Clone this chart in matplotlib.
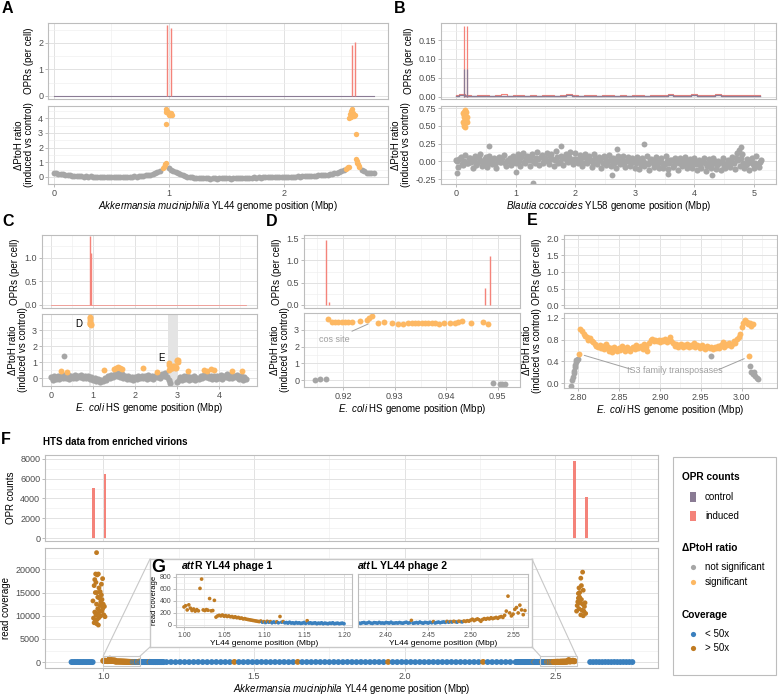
import numpy as np
import matplotlib
matplotlib.use("Agg")
import matplotlib.pyplot as plt
from matplotlib.patches import Rectangle, ConnectionPatch

plt.rcParams['font.family'] = ['Liberation Sans', 'DejaVu Sans']
plt.rcParams['mathtext.fontset'] = 'custom'
plt.rcParams['mathtext.rm'] = 'Liberation Sans'
plt.rcParams['mathtext.it'] = 'Liberation Sans:italic'
plt.rcParams['mathtext.bf'] = 'Liberation Sans:bold'
plt.rcParams['axes.unicode_minus'] = False

# ---------------- data ----------------
# Panel A  (Akkermansia muciniphila YL44)
a_genome_len = 2.78
a_opr_pos = [0.983, 1.017, 2.59, 2.62]
a_opr_induced = [2.66, 2.58, 1.91, 2.02]
a_bin_start = 0.0
a_bin_step = 0.02
a_ratio = [0.27, 0.25, 0.22, 0.2, 0.17, 0.14, 0.12, 0.1, 0.08, 0.07, 0.05, 0.06, 0.04, 0.03, 0.05,
           0.02, 0.04, 0.0, 0.03, 0.01, -0.02, 0.02, 0.0, -0.03, 0.01, -0.01, 0.02, 0.0, -0.02, 0.01,
           0.0, 0.02, -0.01, 0.03, 0.01, 0.04, 0.02, 0.05, 0.04, 0.08, 0.1, 0.12, 0.16, 0.2, 0.26,
           0.33, 0.42,
           np.nan, np.nan, np.nan,
           0.58, 0.5, 0.42,
           0.33, 0.25, 0.18, 0.12, 0.07, 0.03, 0.0,
           -0.02, -0.05, -0.04, -0.08, -0.06, -0.1, -0.07, -0.09, -0.11, -0.08, -0.1, -0.12, -0.09, -0.1, -0.07,
           -0.1, -0.08, -0.11, -0.09, -0.07, -0.1, -0.06, -0.08, -0.05, -0.07, -0.04, -0.06, -0.03, -0.05, -0.02,
           -0.04, -0.01, -0.03, 0.0, -0.02, 0.01, -0.01, 0.02, 0.0, 0.01, 0.03, 0.0, 0.02, 0.01, 0.03,
           0.02, 0.04, 0.03, 0.05, 0.04, 0.06, 0.05, 0.08, 0.07, 0.09, 0.1, 0.12, 0.11, 0.14, 0.16,
           0.18, 0.21, 0.24, 0.28, 0.32, 0.38, 0.44,
           np.nan, np.nan, np.nan, np.nan, np.nan, np.nan, np.nan,
           0.5, 0.38, 0.3, 0.28, 0.3, 0.27]
a_sig_x = [0.95, 0.957, 0.963, 0.968, 0.973, 0.977,
           0.972, 0.978, 0.984, 0.99, 0.996, 1.002, 1.008, 1.014, 1.02, 1.026,
           2.54, 2.548, 2.556, 2.562,
           2.568, 2.574, 2.58, 2.586, 2.592, 2.598, 2.604, 2.61, 2.616,
           2.623,
           2.626, 2.632, 2.638, 2.644, 2.65, 2.656]
a_sig_y = [0.6, 0.68, 0.78, 0.86, 0.95, 3.6,
           4.45, 4.6, 4.5, 4.35, 4.4, 4.25, 4.3, 4.2, 4.35, 4.25,
           0.55, 0.6, 0.65, 0.7,
           4.0, 4.3, 4.1, 4.5, 4.6, 4.2, 4.35, 4.15, 4.25,
           2.95,
           1.25, 1.1, 0.95, 0.85, 0.75, 0.7]

# Panel B  (Blautia coccoides YL58)
b_genome_len = 5.12
b_bg_start = 0.0
b_bg_step = 0.1
b_bg_induced = [0.004, 0.006, 0.005, 0.003, 0.004, 0.005, 0.003, 0.004, 0.006, 0.003,
                0.004, 0.005, 0.003, 0.004, 0.003, 0.005, 0.004, 0.003, 0.004, 0.006,
                0.004, 0.003, 0.005, 0.004, 0.003, 0.004, 0.005, 0.003, 0.004, 0.003,
                0.005, 0.004, 0.003, 0.004, 0.005, 0.004, 0.006, 0.004, 0.005, 0.004,
                0.006, 0.005, 0.004, 0.005, 0.006, 0.004, 0.005, 0.004, 0.005, 0.004,
                0.005, 0.004]
b_bg_control = [0.003, 0.004, 0.003, 0.002, 0.003, 0.003, 0.002, 0.003, 0.003, 0.002,
                0.003, 0.003, 0.002, 0.003, 0.002, 0.003, 0.003, 0.002, 0.003, 0.004,
                0.003, 0.002, 0.003, 0.003, 0.002, 0.003, 0.003, 0.002, 0.003, 0.002,
                0.003, 0.003, 0.002, 0.003, 0.003, 0.003, 0.004, 0.003, 0.003, 0.003,
                0.004, 0.003, 0.003, 0.003, 0.004, 0.003, 0.003, 0.003, 0.003, 0.003,
                0.003, 0.003]
b_opr_pos = [0.13, 0.19]
b_opr_induced = [0.187, 0.187]
b_opr_control = [0.074, 0.074]
b_bin_start = 0.0
b_bin_step = 0.04
b_ratio = [0.02, -0.08, 0.06, -0.05, 0.09, -0.03, 0.04, -0.09, 0.07, -0.02, 0.1, -0.06, 0.03, -0.08, 0.08,
           -0.04, 0.05, -0.1, 0.06, -0.01, 0.09, -0.07, 0.02, -0.05, 0.07,
           -0.03, 0.1, -0.06, 0.12, -0.02, 0.08, -0.07, 0.11, -0.03, 0.13, -0.05, 0.09, 0.0, 0.12, -0.04,
           0.1, -0.06, 0.14, -0.02, 0.08, -0.05, 0.11, -0.01, 0.13, -0.04,
           0.12, -0.03, 0.09, -0.06, 0.11, -0.02, 0.07, -0.08, 0.1, -0.04, 0.06, -0.09, 0.08, -0.05, 0.09,
           -0.07, 0.05, -0.1, 0.07, -0.04, 0.08, -0.08, 0.06, -0.06, 0.04,
           -0.09, 0.06, -0.11, 0.05, -0.07, 0.08, -0.12, 0.03, -0.08, 0.06, -0.1, 0.04, -0.09, 0.07, -0.11,
           0.02, -0.08, 0.05, -0.12, 0.04, -0.07, 0.06, -0.1, 0.03, -0.09,
           0.05, -0.12, 0.02, -0.1, 0.04, -0.13, 0.03, -0.09, 0.05, -0.11, 0.01, -0.12, 0.04, -0.1, 0.02,
           -0.08, 0.06, -0.11, 0.12, -0.06, 0.1, -0.09, 0.03, -0.12, 0.05,
           -0.1, 0.07, -0.08, 0.02]
b_bin2_start = 0.02
b_ratio2 = [0.0, 0.03, -0.04, 0.01, -0.02, 0.05, -0.01, 0.02, -0.05, 0.04, 0.0, -0.03, 0.06, -0.02, 0.01,
            0.03, -0.04, 0.02, -0.01, 0.05, -0.03, 0.0, 0.04, -0.02, 0.01,
            0.04, 0.01, 0.06, -0.01, 0.05, 0.02, 0.07, 0.0, 0.04, 0.03, 0.06, -0.02, 0.05, 0.01, 0.07,
            0.03, 0.02, 0.06, -0.01, 0.04, 0.05, 0.0, 0.06, 0.02, 0.03,
            0.03, 0.0, 0.05, -0.02, 0.04, 0.01, 0.02, -0.03, 0.04, 0.0, 0.03, -0.02, 0.05, -0.01, 0.02,
            0.0, -0.03, 0.03, -0.01, 0.02, -0.04, 0.01, 0.0, -0.02, 0.02,
            -0.03, 0.0, -0.05, 0.01, -0.02, -0.04, 0.02, -0.03, 0.0, -0.05, 0.01, -0.02, -0.04, 0.0, -0.03,
            0.02, -0.05, -0.01, -0.03, 0.0, -0.04, 0.01, -0.02, -0.05, 0.0,
            -0.04, -0.01, -0.05, 0.0, -0.03, -0.06, -0.02, -0.04, 0.0, -0.05, -0.03, -0.01, -0.06, -0.02,
            -0.04, 0.0, -0.03, 0.05, 0.02, 0.04, -0.02, -0.05, -0.03, 0.0, -0.04, -0.02, -0.05, -0.01]
b_out_x = [0.02, 0.55, 1.3, 1.77, 2.62, 3.15, 3.55, 4.3, 4.78, 1.0, 2.7, 4.75]
b_out_y = [-0.17, 0.21, -0.3, 0.22, -0.19, 0.25, -0.18, -0.19, 0.2, -0.15, 0.17, 0.16]
b_sig_x = [0.12, 0.13, 0.14, 0.15, 0.16, 0.17, 0.18, 0.12, 0.14, 0.16, 0.18, 0.13, 0.15, 0.17, 0.14, 0.16]
b_sig_y = [0.55, 0.65, 0.7, 0.6, 0.72, 0.58, 0.63, 0.68, 0.5, 0.48, 0.55, 0.52, 0.66, 0.7, 0.62, 0.57]

# Panel C  (E. coli HS, whole genome)
c_genome_len = 4.64
c_opr_pos = [0.917, 0.948]
c_opr_induced = [1.45, 1.1]
c_phage_d = (0.915, 0.952)
c_phage_e = (2.79, 3.03)
c_bin_start = 0.0
c_bin_step = 0.04
c_ratio = [0.05, -0.1, 0.1, -0.05, 0.15, -0.08, 0.12, -0.02, 0.2, 0.0, 0.18, -0.05, 0.15, 0.02, 0.2,
           -0.03, 0.12, 0.05, 0.18, -0.02, 0.15, 0.0, 0.1, -0.08, 0.05,
           -0.1, 0.02, -0.18, -0.05, -0.25, -0.1, -0.2, 0.0, -0.12, 0.1, -0.02, 0.18, 0.05, 0.25, 0.1,
           0.3, 0.08, 0.22, 0.0, 0.12, -0.08, 0.1, -0.05, 0.08, -0.1,
           0.05, -0.08, 0.12, -0.02, 0.15, 0.0, 0.1, -0.05, 0.18, 0.02, 0.12, -0.05, 0.15, 0.05, 0.2,
           0.0, 0.25, 0.1, 0.3, 0.05, -0.15, -0.3, np.nan, np.nan, np.nan,
           -0.25, -0.1, 0.05, -0.1, 0.1, -0.05, 0.12, -0.12, 0.05, -0.08, 0.1, -0.15, 0.02, -0.05, 0.15,
           0.0, 0.2, 0.05, 0.18, -0.02, 0.12, -0.08, 0.1, -0.05, 0.15,
           0.0, 0.2, -0.05, 0.15, 0.05, 0.22, 0.0, 0.18, -0.02, 0.15, 0.05, 0.2, -0.05, 0.1, -0.1, 0.05, -0.05]
c_sig_x = [0.92, 0.925, 0.93, 0.935, 0.94, 0.945, 0.95, 0.93, 0.94,
           2.8, 2.82, 2.84, 2.86, 2.88, 2.9, 2.92, 2.94, 2.96, 2.98, 3.0, 3.02,
           2.81, 2.85, 2.89, 2.93, 2.97, 3.01, 3.03,
           0.24, 0.38, 1.27, 1.5, 1.55, 1.6, 1.65, 1.7, 2.18, 2.53, 3.27, 3.65, 3.72, 3.8, 3.87, 4.3, 4.55]
c_sig_y = [3.65, 3.5, 3.4, 3.45, 3.35, 3.4, 3.3, 3.8, 3.75,
           0.95, 0.8, 0.65, 0.6, 0.65, 0.75, 0.75, 0.7, 0.65, 0.7, 1.1, 1.15,
           0.5, 0.7, 0.6, 0.68, 0.62, 1.05, 1.0,
           0.45, 0.4, 0.5, 0.55, 0.65, 0.7, 0.6, 0.55, 0.6, 0.4, 0.45, 0.5, 0.45, 0.55, 0.5, 0.45, 0.42]
c_out_x = [0.3]
c_out_y = [1.38]

# Panel D  (zoom on phage D)
d_opr_pos = [0.9167, 0.9173, 0.9475, 0.9484]
d_opr_induced = [1.45, 0.07, 0.39, 1.09]
d_sig_x = [0.91703, 0.91781, 0.91845, 0.91909, 0.91974, 0.92039, 0.92103, 0.92168, 0.9233, 0.9246,
           0.9251, 0.9256, 0.9268, 0.9280, 0.9294, 0.9307, 0.9317, 0.9325, 0.9333, 0.9340,
           0.9346, 0.9353, 0.9359, 0.9365, 0.9372, 0.9378, 0.9385, 0.9396, 0.9407, 0.9416,
           0.9423, 0.9431, 0.9448, 0.9472, 0.9480]
d_sig_y = [3.66, 3.44, 3.46, 3.45, 3.47, 3.48, 3.46, 3.44, 3.54, 3.60,
           3.70, 3.80, 3.40, 3.44, 3.40, 3.36, 3.34, 3.38, 3.40, 3.42,
           3.41, 3.43, 3.42, 3.40, 3.41, 3.39, 3.37, 3.40, 3.38, 3.38,
           3.44, 3.50, 3.40, 3.46, 3.32]
d_ns_x = [0.91457, 0.91554, 0.91665, 0.9491, 0.9504, 0.9509, 0.9514]
d_ns_y = [0.03, 0.07, 0.05, -0.14, -0.22, -0.21, -0.22]

# Panel E  (zoom on phage E)
e_sig_start = 2.803
e_sig_step = 0.00195
e_sig_y = [1.00, 0.96, 0.90, 0.86, 0.84, 0.80, 0.83, 0.78, 0.75, 0.72,
           0.69, 0.66, 0.70, 0.64, 0.68, 0.62, 0.72, 0.66, 0.60, 0.64,
           0.58, 0.66, 0.62, 0.60, 0.65, 0.61, 0.68, 0.63, 0.60, 0.66,
           0.62, 0.59, 0.64, 0.67, 0.62, 0.70, 0.64, 0.66, 0.68, 0.63,
           0.72, 0.66, 0.60, 0.74, 0.80, 0.82, 0.78, 0.80, 0.77, 0.79,
           0.76, 0.80, 0.78, 0.82, 0.76, 0.79, 0.84, 0.78, 0.74, 0.68,
           0.72, 0.66, 0.70, 0.72, 0.67, 0.70, 0.68, 0.72, 0.66, 0.70,
           0.68, 0.73, 0.66, 0.70, 0.68, 0.65, 0.70, 0.66, 0.63, 0.68,
           0.66, 0.64, 0.67, 0.63, 0.66, 0.64, 0.68, 0.65, 0.70, 0.76,
           0.66, 0.72, 0.70, 0.74, 0.68, 0.72, 0.78, 0.74, 0.82, 0.84,
           0.90, 1.04, 1.10, 1.16, 1.12, 1.08, 1.10, 1.05, 1.08]
e_is3_x = [2.8012, 3.0093]
e_is3_y = [0.54, 0.49]
e_ns_x = [2.7919, 2.7927, 2.7939, 2.7947, 2.7951, 2.7959, 2.7963, 2.7971, 2.7980, 2.7988, 2.7996,
          2.9626,
          3.0102, 3.0114, 3.0134, 3.0154, 3.0167, 3.0183, 3.0195]
e_ns_y = [-0.05, 0.06, 0.11, 0.18, 0.23, 0.29, 0.34, 0.38, 0.42, 0.43, 0.45,
          0.50,
          0.31, 0.20, 0.17, 0.20, 0.14, 0.10, 0.07]

# Panel F  (HTS of enriched virions, YL44)
f_opr_pos = [0.967, 1.006, 2.563, 2.603]
f_opr_induced = [5100, 6500, 7800, 4150]
cov_threshold = 50
f_left_start, f_left_step = 0.895, 0.005
f_left_cov = [30, 25, 35, 28, 40, 22, 33, 27, 38, 30, 26, 35, 29, 32, 24]
f_mid_start, f_mid_step = 1.21, 0.015
f_mid_cov = [28, 35, 22, 40, 31, 26, 38, 45, 30, 24, 33, 41, 27, 36, 29, 52, 34, 25, 39, 30,
             28, 44, 32, 26, 37, 30, 41, 23, 35, 60, 29, 33, 27, 42, 31, 36, 24, 39, 30, 28,
             46, 33, 25, 38, 31, 27, 43, 35, 29, 55, 32, 26, 40, 30, 36, 24, 38, 29, 33, 41,
             27, 35, 30, 44, 26, 37, 32, 28, 40, 31, 58, 34, 29, 38, 27, 36, 30]
f_right_start, f_right_step = 2.615, 0.01
f_right_cov = [35, 28, 40, 30, 25, 38, 32, 27, 42, 30, 26, 36, 29, 33, 31]
f_peak1_x = [0.978, 0.975, 0.980, 0.984, 0.972, 0.976, 0.998, 0.970, 0.986, 0.974, 0.980, 0.990, 0.994,
             0.996, 0.966, 0.978, 0.992, 1.000, 1.004, 0.998, 0.982, 0.988, 0.972, 0.976, 0.984, 0.992,
             1.002, 0.968, 0.974, 0.980, 0.986, 0.970, 0.978, 0.984, 0.996, 1.006, 0.990, 0.982, 0.994, 0.988]
f_peak1_y = [23600, 19000, 18800, 19000, 17800, 17200, 18000, 16500, 16000, 15000, 15000, 15200, 14500,
             13500, 13200, 12500, 13000, 12500, 12000, 11500, 11500, 11000, 10800, 10200, 10500, 10000,
             10200, 9500, 9000, 9200, 9600, 8500, 8300, 8000, 11000, 9800, 12200, 14000, 16800, 13800]
f_peak2_x = [2.59, 2.584, 2.578, 2.592, 2.576, 2.58, 2.586, 2.574, 2.582, 2.59, 2.596, 2.572, 2.578,
             2.588, 2.594, 2.6, 2.584, 2.592, 2.576, 2.57, 2.598, 2.58, 2.586]
f_peak2_y = [19400, 18100, 16000, 15500, 14800, 14000, 13500, 13000, 12800, 12500, 12000, 12200, 11500,
             11200, 11000, 10500, 10200, 10000, 13800, 11000, 12800, 15000, 16500]
g1_window = (1.0, 1.122)
g2_window = (2.45, 2.57)
g1_start, g1_step = 1.0, 0.002
g1_cov = [300, 320, 250, 335, 280, 240, 265, 230, 255, 235,
          610, 765, 250, 240, 255, 245, 440, 235, 240, 410,
          130, 150, 160, 150, 165, 145, 155, 140, 150, 135,
          140, 125, 135, 120, 125, 110, 115, 100, 105, 95,
          90, 85, 80, 75, 70, 65, 60, 55, 65, 45,
          55, 40, 60, 45, 55, 35, 50, 40, 52, 35,
          140, 45, 55, 35, 40, 30, 45, 30, 35, 25,
          40, 30, 35, 25, 30, 40, 25, 70, 30, 35,
          25, 30, 35, 20, 30, 25, 35, 20, 30, 25,
          20, 30, 25, 35, 20, 25, 30, 20, 25, 30, 20]
g2_start, g2_step = 2.368, 0.002
g2_cov = [30, 25, 35, 40, 28, 32, 45, 30, 25, 38, 35, 28, 42, 30, 33, 27, 40, 35, 30, 45,
          28, 30, 35, 30, 40, 32, 28, 38, 45, 30, 35, 75, 28, 33, 40, 30, 48, 35, 28, 42,
          38, 30, 45, 35, 55, 32, 40, 48, 36, 44,
          50, 42, 58, 45, 55, 48, 60, 52, 46, 62, 55, 50, 65, 58, 70, 62,
          80, 95, 72, 88, 100, 85, 60, 90, 105, 95,
          110, 100, 120, 105, 115, 125, 110, 130, 140, 125,
          160, 230, 480, 200, 150, 180, 260, 290, 200, 330, 250, 170, 240]

# ---------------- style ----------------
C_IND = "#F4837A"
C_CTRL = "#8A7B94"
C_NS = "#A6A6A6"
C_SIG = "#FDB863"
C_LOW = "#3A80BE"
C_HIGH = "#C07B22"
GRID = "#E2E2E2"
GRID_MINOR = "#EFEFEF"
BORDER = "#BDBDBD"
TICKC = "#4D4D4D"
ANNO = "#A0A0A0"

W, H = 778, 697
fig = plt.figure(figsize=(W / 100, H / 100), dpi=100)
fig.patch.set_facecolor('white')


def add_ax(l, t, r, b):
    return fig.add_axes([l / W, 1 - b / H, (r - l) / W, (b - t) / H])


def minor_from(ticks, lim):
    step = ticks[1] - ticks[0]
    lo, hi = min(lim), max(lim)
    cand = ticks[0] + step / 2 + step * np.arange(-30, 60)
    return [v for v in cand if lo < v < hi]


def style(ax, xlim, ylim, xticks, yticks, xfmt, yfmt, showx=True, size=6.5, showy=True):
    ax.set_xlim(xlim)
    ax.set_ylim(ylim)
    ax.set_xticks(xticks)
    ax.set_yticks(yticks)
    ax.set_xticklabels([xfmt.format(v) for v in xticks])
    ax.set_yticklabels([yfmt.format(v) for v in yticks])
    ax.set_xticks(minor_from(xticks, xlim), minor=True)
    ax.set_yticks(minor_from(yticks, ylim), minor=True)
    ax.set_axisbelow(True)
    ax.grid(True, which='major', color=GRID, lw=0.7)
    ax.grid(True, which='minor', color=GRID_MINOR, lw=0.45)
    ax.tick_params(which='major', length=2, width=0.6, color='#B0B0B0',
                   labelsize=size, labelcolor=TICKC, pad=1.5)
    ax.tick_params(which='minor', length=0)
    if not showx:
        ax.tick_params(axis='x', which='major', length=0, labelbottom=False)
    if not showy:
        ax.tick_params(axis='y', which='major', length=0, labelleft=False)
    for s in ax.spines.values():
        s.set_color(BORDER)
        s.set_linewidth(0.8)


RATIO_LABEL = "\u0394PtoH ratio\n(induced vs control)"
LAB = 7
PT = 15

# ---------------- Panel A ----------------
axA1 = add_ax(48, 23, 388, 99)
axA1.plot([0, a_genome_len], [0, 0], color=C_CTRL, lw=0.8)
axA1.vlines(a_opr_pos, 0, a_opr_induced, color=C_IND, lw=1.0)
style(axA1, (-0.05, 2.905), (-0.12, 2.75), [0, 1, 2], [0, 1, 2], "{:.0f}", "{:.0f}", showx=False)
axA1.set_ylabel("OPRs (per cell)", fontsize=LAB, labelpad=3)

axA2 = add_ax(48, 106, 388, 184)
a_x = a_bin_start + a_bin_step * np.arange(len(a_ratio))
axA2.scatter(a_x, a_ratio, s=18, color=C_NS, lw=0)
axA2.scatter(a_sig_x, a_sig_y, s=PT, color=C_SIG, lw=0)
style(axA2, (-0.05, 2.905), (-0.48, 4.83), [0, 1, 2], [0, 1, 2, 3, 4], "{:.0f}", "{:.0f}")
axA2.set_ylabel(RATIO_LABEL, fontsize=LAB, labelpad=3, linespacing=1.0)
axA2.set_xlabel(r"$\mathit{Akkermansia\ muciniphilia}$ YL44 genome position (Mbp)", fontsize=LAB, labelpad=1)

# ---------------- Panel B ----------------
axB1 = add_ax(441, 23, 776, 99)
b_bg_x = b_bg_start + b_bg_step * np.arange(len(b_bg_induced))
axB1.plot(b_bg_x, b_bg_induced, color=C_IND, lw=0.8, drawstyle='steps-mid')
axB1.plot(b_bg_x, b_bg_control, color=C_CTRL, lw=1.0, drawstyle='steps-mid')
axB1.vlines(b_opr_pos, 0, b_opr_induced, color=C_IND, lw=0.9)
axB1.vlines(b_opr_pos, 0, b_opr_control, color=C_CTRL, lw=0.9)
style(axB1, (-0.25, 5.37), (-0.006, 0.195), [0, 1, 2, 3, 4, 5], [0, 0.05, 0.10, 0.15],
      "{:.0f}", "{:.2f}", showx=False)
axB1.set_ylabel("OPRs (per cell)", fontsize=LAB, labelpad=3)

axB2 = add_ax(441, 106, 776, 184)
b_x = b_bin_start + b_bin_step * np.arange(len(b_ratio))
b_x2 = b_bin2_start + b_bin_step * np.arange(len(b_ratio2))
axB2.scatter(b_x, b_ratio, s=20, color=C_NS, lw=0)
axB2.scatter(b_x2, b_ratio2, s=20, color=C_NS, lw=0)
axB2.scatter(b_out_x, b_out_y, s=18, color=C_NS, lw=0)
axB2.scatter(b_sig_x, b_sig_y, s=18, color=C_SIG, lw=0)
style(axB2, (-0.25, 5.37), (-0.32, 0.78), [0, 1, 2, 3, 4, 5], [-0.25, 0, 0.25, 0.5, 0.75],
      "{:.0f}", "{:.2f}")
axB2.set_ylabel(RATIO_LABEL, fontsize=LAB, labelpad=3, linespacing=1.0)
axB2.set_xlabel(r"$\mathit{Blautia\ coccoides}$ YL58 genome position (Mbp)", fontsize=LAB, labelpad=1)

# ---------------- Panel C ----------------
axC1 = add_ax(42, 235, 257, 308)
axC1.plot([0, c_genome_len], [0, 0], color=C_IND, lw=0.6, alpha=0.8)
axC1.vlines(c_opr_pos, 0, c_opr_induced, color=C_IND, lw=1.0)
style(axC1, (-0.214, 4.905), (-0.07, 1.48), [0, 1, 2, 3, 4], [0, 0.5, 1.0], "{:.0f}", "{:.1f}", showx=False)
axC1.set_ylabel("OPRs (per cell)", fontsize=LAB, labelpad=3)

axC2 = add_ax(42, 314, 257, 386)
axC2.axvspan(c_phage_d[0], c_phage_d[1], color="#E8E8E8", lw=0, zorder=0.8)
axC2.axvspan(c_phage_e[0], c_phage_e[1], color="#E4E4E4", lw=0, zorder=0.8)
c_x = c_bin_start + c_bin_step * np.arange(len(c_ratio))
axC2.scatter(c_x, c_ratio, s=20, color=C_NS, lw=0, zorder=2)
axC2.scatter(c_out_x, c_out_y, s=18, color=C_NS, lw=0, zorder=2)
axC2.scatter(c_sig_x, c_sig_y, s=18, color=C_SIG, lw=0, zorder=3)
axC2.text(0.74, 3.35, "D", ha='right', va='center', fontsize=7)
axC2.text(2.7, 1.25, "E", ha='right', va='center', fontsize=7)
style(axC2, (-0.214, 4.905), (-0.5, 4.0), [0, 1, 2, 3, 4], [0, 1, 2, 3], "{:.0f}", "{:.0f}")
axC2.set_ylabel(RATIO_LABEL, fontsize=LAB, labelpad=3, linespacing=1.0)
axC2.set_xlabel(r"$\mathit{E.\ coli}$ HS genome position (Mbp)", fontsize=LAB, labelpad=1)

# ---------------- Panel D ----------------
axD1 = add_ax(304, 235, 520, 308)
axD1.vlines(d_opr_pos, 0, d_opr_induced, color=C_IND, lw=1.0)
style(axD1, (0.9124, 0.9543), (-0.07, 1.57), [0.92, 0.93, 0.94, 0.95], [0, 0.5, 1.0, 1.5],
      "{:.2f}", "{:.1f}", showx=False)
axD1.set_ylabel("OPRs (per cell)", fontsize=LAB, labelpad=3)

axD2 = add_ax(304, 313, 520, 387)
axD2.scatter(d_ns_x, d_ns_y, s=18, color=C_NS, lw=0)
axD2.scatter(d_sig_x, d_sig_y, s=18, color=C_SIG, lw=0)
axD2.annotate("cos site", xy=(0.9256, 3.45), xytext=(0.9183, 2.45), textcoords='data',
              fontsize=6.5, color=ANNO, ha='center', va='center',
              arrowprops=dict(arrowstyle='-', color=ANNO, lw=0.7, shrinkA=1, shrinkB=3))
style(axD2, (0.9124, 0.9543), (-0.4, 4.0), [0.92, 0.93, 0.94, 0.95], [0, 1, 2, 3], "{:.2f}", "{:.0f}")
axD2.set_ylabel(RATIO_LABEL, fontsize=LAB, labelpad=3, linespacing=1.0)
axD2.set_xlabel(r"$\mathit{E.\ coli}$ HS genome position (Mbp)", fontsize=LAB, labelpad=1)

# ---------------- Panel E ----------------
axE1 = add_ax(564, 235, 777, 308)
style(axE1, (2.783, 3.043), (-0.09, 2.12), [2.80, 2.85, 2.90, 2.95, 3.00], [0, 0.5, 1.0, 1.5, 2.0],
      "{:.2f}", "{:.1f}", showx=False)
axE1.set_ylabel("OPRs (per cell)", fontsize=LAB, labelpad=3)

axE2 = add_ax(564, 313, 777, 388)
e_x = e_sig_start + e_sig_step * np.arange(len(e_sig_y))
axE2.scatter(e_ns_x, e_ns_y, s=18, color=C_NS, lw=0)
axE2.scatter(e_x, e_sig_y, s=18, color=C_SIG, lw=0)
axE2.scatter(e_is3_x, e_is3_y, s=18, color=C_SIG, lw=0)
axE2.text(2.918, 0.23, "IS3 family transposases", fontsize=6.5, color=ANNO, ha='center', va='center')
axE2.annotate("", xy=(e_is3_x[0], e_is3_y[0]), xytext=(2.866, 0.25),
              arrowprops=dict(arrowstyle='-', color=ANNO, lw=0.7, shrinkA=0, shrinkB=4))
axE2.annotate("", xy=(e_is3_x[1], e_is3_y[1]), xytext=(2.972, 0.25),
              arrowprops=dict(arrowstyle='-', color=ANNO, lw=0.7, shrinkA=0, shrinkB=4))
style(axE2, (2.783, 3.043), (-0.09, 1.29), [2.80, 2.85, 2.90, 2.95, 3.00], [0, 0.4, 0.8, 1.2],
      "{:.2f}", "{:.1f}")
axE2.set_ylabel(RATIO_LABEL, fontsize=LAB, labelpad=3, linespacing=1.0)
axE2.set_xlabel(r"$\mathit{E.\ coli}$ HS genome position (Mbp)", fontsize=LAB, labelpad=1)

# ---------------- Panel F ----------------
axF1 = add_ax(45, 455, 658, 541)
axF1.bar(f_opr_pos, f_opr_induced, width=0.009, color=C_IND, lw=0)
style(axF1, (0.807, 2.84), (-300, 8400), [1.0, 1.5, 2.0, 2.5], [0, 2000, 4000, 6000, 8000],
      "{:.1f}", "{:.0f}", showx=False)
axF1.set_ylabel("OPR counts", fontsize=LAB, labelpad=3)

axF2 = add_ax(45, 548, 658, 668)
seg_x = np.concatenate([
    f_left_start + f_left_step * np.arange(len(f_left_cov)),
    g1_start + g1_step * np.arange(len(g1_cov)),
    f_mid_start + f_mid_step * np.arange(len(f_mid_cov)),
    g2_start + g2_step * np.arange(len(g2_cov)),
    f_right_start + f_right_step * np.arange(len(f_right_cov))])
seg_y = np.concatenate([f_left_cov, g1_cov, f_mid_cov, g2_cov, f_right_cov]).astype(float)
axF2.scatter(seg_x, seg_y, s=18, c=np.where(seg_y > cov_threshold, C_HIGH, C_LOW), lw=0)
pk_x = np.concatenate([f_peak1_x, f_peak2_x])
pk_y = np.concatenate([f_peak1_y, f_peak2_y]).astype(float)
axF2.scatter(pk_x, pk_y, s=12, c=np.where(pk_y > cov_threshold, C_HIGH, C_LOW), lw=0)
style(axF2, (0.807, 2.84), (-1250, 24600), [1.0, 1.5, 2.0, 2.5], [0, 5000, 10000, 15000, 20000],
      "{:.1f}", "{:.0f}")
axF2.tick_params(axis='x', pad=1)
axF2.set_ylabel("read coverage", fontsize=LAB, labelpad=3)
axF2.set_xlabel(r"$\mathit{Akkermansia\ muciniphila}$ YL44 genome position (Mbp)", fontsize=LAB, labelpad=0.5)
rect_lo, rect_hi = -800, 1300
for win in (g1_window, g2_window):
    axF2.add_patch(Rectangle((win[0], rect_lo), win[1] - win[0], rect_hi - rect_lo,
                             fill=False, edgecolor="#C8C8C8", lw=0.8, zorder=4))

# inset box G
box = add_ax(150, 559, 532, 647)
box.set_xticks([])
box.set_yticks([])
box.set_facecolor('white')
for s in box.spines.values():
    s.set_color("#C8C8C8")
    s.set_linewidth(1.0)

for (xa, xb) in [((g1_window[0], rect_hi), (0, 1)), ((g1_window[1], rect_hi), (0, 0)),
                 ((g2_window[1], rect_hi), (1, 1)), ((g2_window[0], rect_hi), (1, 0))]:
    cp = ConnectionPatch(xyA=xa, coordsA=axF2.transData, xyB=xb, coordsB=box.transAxes,
                         color="#C8C8C8", lw=0.8)
    fig.add_artist(cp)

g_ylim = (-35, 850)
axG1 = add_ax(176, 574, 352, 627)
g1_x = g1_start + g1_step * np.arange(len(g1_cov))
axG1.scatter(g1_x, g1_cov, s=7, c=np.where(np.array(g1_cov) > cov_threshold, C_HIGH, C_LOW), lw=0)
style(axG1, (0.99, 1.21), g_ylim, [1.0, 1.05, 1.10, 1.15, 1.20], [0, 200, 400, 600, 800],
      "{:.2f}", "{:.0f}", size=5)
axG1.set_ylabel("read coverage", fontsize=5.5, labelpad=1)
axG1.set_xlabel("YL44 genome position (Mbp)", fontsize=6, labelpad=0.5)

axG2 = add_ax(358, 574, 528, 627)
g2_x = g2_start + g2_step * np.arange(len(g2_cov))
axG2.scatter(g2_x, g2_cov, s=7, c=np.where(np.array(g2_cov) > cov_threshold, C_HIGH, C_LOW), lw=0)
style(axG2, (2.367, 2.5676), g_ylim, [2.40, 2.45, 2.50, 2.55], [0, 200, 400, 600, 800],
      "{:.2f}", "{:.0f}", size=5, showy=False)
axG2.set_xlabel("YL44 genome position (Mbp)", fontsize=6, labelpad=0.5)

# ---------------- overlay: panel letters, titles, legend ----------------
ov = fig.add_axes([0, 0, 1, 1])
ov.set_xlim(0, W)
ov.set_ylim(H, 0)
ov.set_axis_off()

for letter, (x, y) in {"A": (2, 1), "B": (394, 1), "C": (2, 214), "D": (266, 214),
                       "E": (527, 213), "F": (1, 432)}.items():
    ov.text(x, y, letter, fontsize=11.5, fontweight='bold', va='top', ha='left')
ov.text(43, 442, "HTS data from enriched virions", fontsize=7, fontweight='bold', va='center', ha='left')

ov.text(151, 559, "G", fontsize=13, fontweight='bold', va='top', ha='left')
t1 = ov.text(182, 566, "att", fontsize=7.5, fontweight='bold', fontstyle='italic', va='center', ha='left')
ov.annotate("R YL44 phage 1", xy=(1, 0), xycoords=t1, xytext=(0.3, 0), textcoords='offset points',
            va='bottom', ha='left', fontsize=7.5, fontweight='bold')
t2 = ov.text(358, 566, "att", fontsize=7.5, fontweight='bold', fontstyle='italic', va='center', ha='left')
ov.annotate("L YL44 phage 2", xy=(1, 0), xycoords=t2, xytext=(0.3, 0), textcoords='offset points',
            va='bottom', ha='left', fontsize=7.5, fontweight='bold')

# legend
ov.add_patch(Rectangle((673, 457), 103.5, 218, facecolor='white', edgecolor=BORDER, lw=0.8))
LX_KEY, LX_TXT, LX_T = 693.5, 705, 682
ov.text(LX_T, 477, "OPR counts", fontsize=7.3, fontweight='bold', va='center', ha='left')
for yk, col, lab in [(497, C_CTRL, "control"), (516, C_IND, "induced")]:
    ov.add_patch(Rectangle((LX_KEY - 3, yk - 5), 6, 10, facecolor=col, edgecolor='none'))
    ov.text(LX_TXT, yk, lab, fontsize=7, va='center', ha='left')
ov.text(LX_T, 548, "\u0394PtoH ratio", fontsize=7.3, fontweight='bold', va='center', ha='left')
for yk, col, lab in [(567, C_NS, "not significant"), (582, C_SIG, "significant")]:
    ov.scatter([LX_KEY], [yk], s=14, color=col, lw=0)
    ov.text(LX_TXT, yk, lab, fontsize=7, va='center', ha='left')
ov.text(LX_T, 615, "Coverage", fontsize=7.3, fontweight='bold', va='center', ha='left')
for yk, col, lab in [(634, C_LOW, "< 50x"), (648, C_HIGH, "> 50x")]:
    ov.scatter([LX_KEY], [yk], s=14, color=col, lw=0)
    ov.text(LX_TXT, yk, lab, fontsize=7, va='center', ha='left')

fig.savefig("out.png", dpi=100, facecolor='white')
